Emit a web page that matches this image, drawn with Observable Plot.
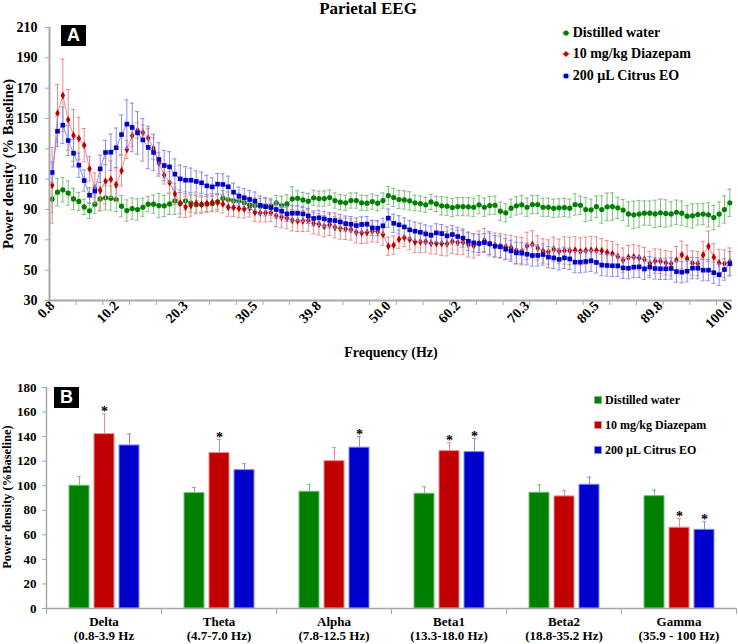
<!DOCTYPE html>
<html><head><meta charset="utf-8">
<script src="https://cdn.jsdelivr.net/npm/d3@7"></script>
<script src="https://cdn.jsdelivr.net/npm/@observablehq/plot@0.6"></script>
<style>
body{margin:0;background:#fff;}
#wrap{position:relative;width:738px;height:644px;font-family:"Liberation Serif","Times New Roman",serif;font-weight:bold;color:#000;overflow:hidden;background:#fff}
.abs{position:absolute;white-space:nowrap}
.tag{position:absolute;background:#000;color:#fff;font-family:"Liberation Sans",Arial,sans-serif;font-weight:bold;text-align:center;width:25px;height:21px;line-height:21px;font-size:18px}
.leg{position:absolute;display:flex;align-items:center;white-space:nowrap}
.rot{position:absolute;text-align:center;transform:rotate(-90deg);transform-origin:50% 50%;white-space:nowrap}
</style></head><body>
<div id="wrap">
  <div id="plotA" class="abs" style="left:0;top:0"></div>
  <div id="plotB" class="abs" style="left:0;top:365px"></div>
  <div class="abs" style="left:-1px;top:0px;width:738px;text-align:center;font-size:17px;line-height:18px">Parietal EEG</div>
  <div class="abs" style="left:291px;top:345px;width:200px;text-align:center;font-size:14px;line-height:16px">Frequency (Hz)</div>
  <div class="rot" style="left:-122.5px;top:156px;width:260px;height:16px;font-size:14.5px;line-height:16px">Power density (% Baseline)</div>
  <div class="rot" style="left:-123px;top:489px;width:260px;height:16px;font-size:12.5px;line-height:16px">Power density (%Baseline)</div>
  <div class="tag" style="left:61px;top:25px">A</div>
  <div class="tag" style="left:54px;top:387px">B</div>
  <div id="legA"></div>
  <div id="legB"></div>
</div>
<script>
// ---------- Panel A data (power density, % baseline, 128 frequency bins 0.8–100 Hz) ----------
const freqTickLabels = ["0.8","10.2","20.3","30.5","39.8","50.0","60.2","70.3","80.5","89.8","100.0"];
const yTicksA = [30,50,70,90,110,130,150,170,190,210];

const waterA = [
96.8,101.4,103.0,100.8,97.0,95.3,91.7,89.1,93.5,97.0,97.7,97.5,96.6,92.2,89.3,90.6,90.0,91.5,93.5,93.5,92.6,92.4,93.7,95.7,93.9,95.7,94.2,93.1,93.3,93.7,94.0,95.0,
97.4,96.6,95.7,95.7,94.4,93.1,92.6,92.2,92.2,92.2,94.4,92.8,93.7,97.0,97.4,96.3,95.5,97.7,97.2,97.2,97.9,95.9,94.8,94.4,95.9,95.9,94.4,94.2,95.2,94.2,95.9,99.2,
97.9,96.6,96.3,95.7,94.4,93.9,93.1,95.0,93.7,92.4,92.2,91.3,91.9,91.9,91.8,91.5,93.1,91.5,92.6,92.8,88.9,87.8,90.9,92.4,93.1,91.5,93.3,93.3,91.5,91.5,90.8,91.1,
91.3,90.9,93.3,92.8,90.0,89.8,91.9,90.0,91.8,91.9,91.1,89.6,87.1,86.5,87.0,87.6,87.6,87.1,87.8,87.4,87.1,88.2,87.6,85.6,85.8,86.7,87.0,86.5,84.7,87.0,90.0,94.4];
const waterErrA = [
9,9,8,8,7,6,5,5,6,8,8,8,8,7,7,7,7,6,5,6,8,7,7,9,9,6,6,6,5,5,5,5,
5,5,5,5,5,5,5,5,5,5,5,6,6,8,5,5,5,5,5,5,5,5,5,5,5,5,5,5,5,5,5,6,
6,6,6,6,5,5,5,5,5,6,6,6,6,6,6,6,6,6,6,6,6,6,6,6,6,6,6,6,6,6,6,6,
6,6,7,6,8,7,7,9,9,9,7,7,8,9,9,8,8,9,9,9,8,8,8,7,8,7,7,8,8,8,9,9];

const diazepamA = [
106.0,153.5,165.2,149.1,138.8,136.8,132.4,116.8,104.1,102.5,108.7,110.0,106.3,115.5,129.6,138.6,142.1,140.8,137.2,130.2,120.5,112.8,107.8,100.3,94.2,91.7,92.6,94.2,93.3,93.9,94.6,94.6,
93.7,91.5,91.3,90.6,90.4,91.1,88.2,87.8,87.8,88.0,85.8,84.9,84.3,82.9,82.5,82.5,82.7,80.9,80.3,79.0,79.9,78.3,77.4,77.2,76.8,75.0,74.6,74.8,75.6,75.4,73.5,65.8,
66.5,70.4,71.5,70.4,68.5,68.7,68.9,67.8,67.6,67.6,67.4,69.1,68.3,68.3,66.7,66.0,67.8,69.6,67.4,66.5,66.0,65.4,65.0,63.0,62.5,66.0,67.0,64.6,62.7,62.0,63.8,62.5,
63.0,62.8,63.2,62.3,62.8,63.2,63.0,62.8,61.6,60.8,59.0,56.6,58.3,58.7,58.1,57.0,54.4,56.0,55.8,54.9,54.3,56.6,60.1,57.5,54.7,54.3,60.0,65.8,58.5,54.7,54.3,55.6];
const diazepamErrA = [
25,19,24,20,17,14,11,8,10,13,15,12,11,10,6,7,5,5,6,7,7,6,7,7,7,7,7,6,6,6,6,6,
6,6,6,6,6,6,6,6,6,6,7,7,7,7,7,7,7,7,7,7,7,7,7,7,7,7,7,7,7,7,7,6,
6,6,6,7,7,7,7,7,7,8,8,8,8,8,8,8,8,8,8,8,8,8,8,9,9,9,9,8,8,8,8,8,
9,9,9,9,9,9,9,8,8,8,8,8,8,8,8,8,8,8,8,8,8,9,9,9,8,8,9,10,9,9,9,9];

const citrusA = [
114.4,141.6,145.6,135.5,127.1,119.2,109.1,99.4,102.1,116.8,127.6,127.8,130.7,139.4,146.3,144.1,140.5,135.9,130.9,127.6,123.0,119.0,118.1,113.3,110.2,109.3,109.3,108.5,107.6,105.6,104.9,106.7,
106.5,105.0,101.4,98.8,97.7,96.6,95.5,92.8,91.8,91.3,90.0,88.9,87.1,87.5,87.5,87.1,85.8,84.1,84.5,83.8,82.9,82.7,81.8,80.7,80.3,79.4,80.1,80.3,77.9,77.7,79.2,84.3,
80.9,79.9,78.5,76.6,75.7,75.0,73.9,73.0,74.6,74.1,72.6,73.5,72.2,71.1,69.1,68.0,67.6,68.2,67.4,65.8,65.4,63.8,62.7,61.4,61.2,60.5,59.7,59.7,60.3,58.6,58.1,57.1,
58.1,57.4,55.3,55.3,55.7,56.2,55.1,53.3,53.1,52.9,52.9,51.5,51.3,52.0,52.2,50.9,52.0,51.1,50.9,50.9,51.1,49.1,48.7,49.3,51.3,51.3,50.0,50.0,48.3,47.0,50.4,54.2];
const citrusErrA = [
7,10,12,10,9,8,7,5,4,9,8,12,13,13,16,16,14,14,14,12,11,10,10,10,9,9,8,7,7,7,6,7,
7,7,6,6,6,6,6,6,6,5,5,5,5,5,5,5,5,5,5,5,5,5,5,5,5,5,5,5,5,5,5,6,
6,6,6,6,6,6,6,6,6,6,6,6,6,6,6,6,6,6,7,7,7,7,7,7,7,7,7,7,7,7,7,7,
7,7,7,7,7,7,7,7,7,7,7,7,7,7,7,7,7,7,7,7,7,7,7,7,7,7,7,7,7,7,7,8];

// ---------- Panel B data ----------
const groupNames = ["Distilled water","10 mg/kg Diazepam","200 µL Citrus EO"];
const bandNames = ["Delta","Theta","Alpha","Beta1","Beta2","Gamma"];
const bandRanges = ["(0.8-3.9 Hz","(4.7-7.0 Hz)","(7.8-12.5 Hz)","(13.3-18.0 Hz)","(18.8-35.2 Hz)","(35.9 - 100 Hz)"];
const yTicksB = [0,20,40,60,80,100,120,140,160,180];
const waterB = [100.0,94.0,95.1,93.5,94.3,91.5];
const waterErrB = [7.6,4.6,6.0,5.7,6.5,5.0];
const diazepamB = [142.0,126.6,120.0,128.2,91.3,65.8];
const diazepamErrB = [16.5,11.0,11.0,6.8,4.6,7.3];
const citrusB = [132.8,112.7,131.0,127.4,100.8,64.1];
const citrusErrB = [9.5,5.2,9.0,11.0,6.2,6.6];
const starWater = [0,0,0,0,0,0];
const starDiazepam = [1,1,0,1,0,1];
const starCitrus = [0,0,1,1,0,1];

// ---------- styles ----------
const dark = {water:"#008000", diazepam:"#c00000", citrus:"#0000cc"};
const light = {water:"#7dbf7d", diazepam:"#ec8a8a", citrus:"#8a8aee"};
const axisGray = "#a8a8a8";
const fontFamily = '"Liberation Serif","Times New Roman",serif';

// ---------- Panel A ----------
const nBins = waterA.length;
const binHz = 100 / nBins;
const freqs = d3.range(nBins).map(i => (i + 1) * binHz);
const loHz = 0.5 * binHz, hiHz = (nBins + 0.5) * binHz;
const boundaryHz = d3.range(0, nBins, 5).map(n => (n + 0.5) * binHz);
const capHz = 0.3;

const seriesA = [
  {key:"water", values:waterA, err:waterErrA, symbol:"circle", r:2.6},
  {key:"diazepam", values:diazepamA, err:diazepamErrA, symbol:"diamond", r:2.4},
  {key:"citrus", values:citrusA, err:citrusErrA, symbol:"square", r:2.6}
];
const marksA = [];
for (const s of seriesA) {
  const rows = s.values.map((v, i) => ({f: freqs[i], v, lo: v - s.err[i], hi: v + s.err[i]}));
  marksA.push(
    Plot.ruleX(rows, {x:"f", y1:"lo", y2:"hi", stroke: light[s.key], strokeWidth: 1}),
    Plot.ruleY(rows, {y:"hi", x1: d => d.f - capHz, x2: d => d.f + capHz, stroke: light[s.key], strokeWidth: 1}),
    Plot.ruleY(rows, {y:"lo", x1: d => d.f - capHz, x2: d => d.f + capHz, stroke: light[s.key], strokeWidth: 1}),
    Plot.line(rows, {x:"f", y:"v", stroke: light[s.key], strokeWidth: 1}),
    Plot.dot(rows, {x:"f", y:"v", fill: dark[s.key], stroke: "none", symbol: s.symbol, r: s.r})
  );
}

const plotA = Plot.plot({
  width: 738, height: 365,
  marginLeft: 49, marginRight: 6, marginTop: 27, marginBottom: 65,
  x: {domain: [loHz, hiHz], axis: null},
  y: {domain: [30, 210], axis: null},
  style: {fontFamily, fontWeight: "bold", fontSize: "14px", color: "#000", background: "transparent"},
  marks: [
    Plot.axisY({ticks: yTicksA, tickSize: 4, tickPadding: 8, stroke: axisGray, fill: "#000", label: null, fontSize: 14}),
    Plot.axisX({ticks: boundaryHz, tickSize: 5, tickFormat: () => "", stroke: axisGray, label: null}),
    Plot.axisX({ticks: freqTickLabels.map(Number), tickSize: 0, tickPadding: 3, tickRotate: -45,
                tickFormat: d => d.toFixed(1), fill: "#000", label: null, fontSize: 14}),
    ...marksA,
    Plot.ruleY([30], {stroke: axisGray, strokeWidth: 2}),
    Plot.ruleX([loHz], {stroke: axisGray, strokeWidth: 2})
  ]
});
document.getElementById("plotA").appendChild(plotA);

// ---------- Panel B ----------
const groupsB = [
  {key:"water", name:groupNames[0], values:waterB, err:waterErrB, star:starWater},
  {key:"diazepam", name:groupNames[1], values:diazepamB, err:diazepamErrB, star:starDiazepam},
  {key:"citrus", name:groupNames[2], values:citrusB, err:citrusErrB, star:starCitrus}
];
const marksB = [];
for (const g of groupsB) {
  const rows = bandNames.map((b, i) => ({band: b, group: g.name, value: g.values[i], top: g.values[i] + g.err[i], star: g.star[i]}));
  marksB.push(
    Plot.ruleX(rows, {fx:"band", x:"group", y1:"value", y2:"top", stroke: light[g.key], strokeWidth: 1}),
    Plot.tickY(rows, {fx:"band", x:"group", y:"top", stroke: light[g.key], strokeWidth: 1, insetLeft: 8, insetRight: 8}),
    Plot.barY(rows, {fx:"band", x:"group", y:"value", fill: dark[g.key], stroke: light[g.key], strokeWidth: 1}),
    Plot.text(rows.filter(d => d.star), {fx:"band", x:"group", y:"top", text: () => "*", dy: -2, fontSize: 14, fontWeight: "bold", fill: "#000"})
  );
}
const plotB = Plot.plot({
  width: 738, height: 279,
  marginLeft: 43, marginRight: 0, marginTop: 22, marginBottom: 36,
  fx: {domain: bandNames, padding: 0, axis: null, label: null},
  x: {domain: groupNames, paddingInner: 0.22, paddingOuter: 0.863, axis: null},
  y: {domain: [0, 180], axis: null},
  style: {fontFamily, fontWeight: "bold", fontSize: "13px", color: "#000", background: "transparent", overflow: "visible"},
  marks: [
    Plot.axisY({ticks: yTicksB, tickSize: 4, tickPadding: 6, stroke: axisGray, fill: "#000", label: null, fontSize: 13}),
    Plot.axisFx({anchor: "bottom", tickSize: 0, tickPadding: 8, label: null, fontSize: 13, lineHeight: 1.05, fill: "#000",
                 tickFormat: d => d + "\n" + bandRanges[bandNames.indexOf(d)]}),
    Plot.frame({anchor: "left", insetTop: 221, insetBottom: -5, stroke: axisGray}),
    Plot.frame({anchor: "right", insetTop: 221, insetBottom: -5, stroke: axisGray}),
    Plot.frame({anchor: "left", stroke: axisGray, strokeWidth: 1.5, facetAnchor: "left"}),
    ...marksB,
    Plot.ruleY([0], {stroke: axisGray, strokeWidth: 1.5})
  ]
});
document.getElementById("plotB").appendChild(plotB);

// ---------- Legends ----------
const legA = document.getElementById("legA");
const legTopsA = [25.3, 46.3, 67.8];
const shapesA = {
  water: c => `<circle cx="7" cy="5" r="2.6" fill="${c}"/>`,
  diazepam: c => `<path d="M7 2 L10 5 L7 8 L4 5 Z" fill="${c}"/>`,
  citrus: c => `<rect x="4.7" y="2.7" width="4.6" height="4.6" fill="${c}"/>`
};
seriesA.forEach((s, i) => {
  const d = document.createElement("div");
  d.className = "leg";
  d.style.cssText = `left:558.7px;top:${legTopsA[i]}px;height:16px;font-size:14px;line-height:16px`;
  d.innerHTML = `<svg width="14" height="10" style="display:block"><line x1="3" x2="11" y1="5" y2="5" stroke="${light[s.key]}"/>${shapesA[s.key](dark[s.key])}</svg><span>${groupNames[i]}</span>`;
  legA.appendChild(d);
});
const legB = document.getElementById("legB");
const legTopsB = [393, 418, 442.6];
groupsB.forEach((g, i) => {
  const d = document.createElement("div");
  d.className = "leg";
  d.style.cssText = `left:594px;top:${legTopsB[i]}px;height:14px;font-size:12px;line-height:14px`;
  d.innerHTML = `<svg width="8" height="8" style="display:block;margin-right:3px"><rect x="0.5" y="0.5" width="7" height="7" fill="${dark[g.key]}" stroke="${light[g.key]}"/></svg><span>${g.name}</span>`;
  legB.appendChild(d);
});
</script>
</body></html>
